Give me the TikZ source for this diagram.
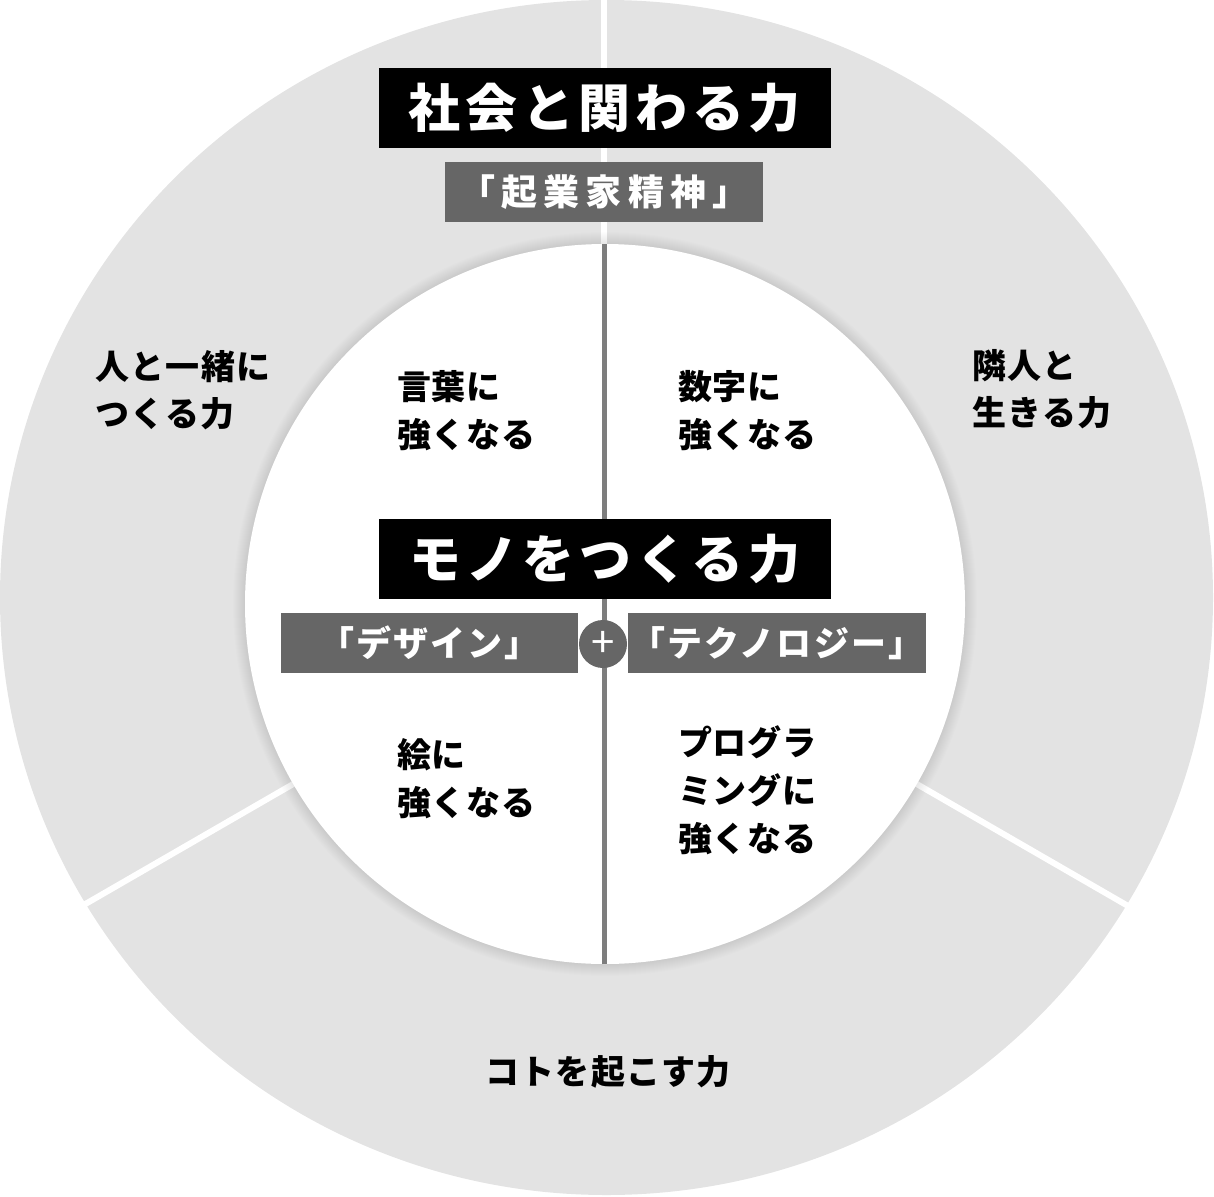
\documentclass[tikz,border=0pt]{standalone}
\usepackage{fontspec}
\setmainfont{Noto Sans CJK JP}
\newfontfamily\titlefont{Noto Sans CJK JP}[LetterSpace=9]
\newfontfamily\spiritfont{Noto Sans CJK JP}[LetterSpace=17]
\newfontfamily\boxfont{Noto Sans CJK JP}[LetterSpace=6]
\newfontfamily\ringfont{Noto Sans CJK JP}[LetterSpace=4]
\newfontfamily\innerfont{Noto Sans CJK JP}[LetterSpace=2]
\definecolor{ringgray}{HTML}{E3E3E3}
\definecolor{boxgray}{HTML}{666666}
\definecolor{linegray}{HTML}{7D7D7D}
\tikzset{
  bigbox/.style={fill=black,text=white,minimum width=452pt,minimum height=80pt,inner sep=0pt,font=\titlefont\fontsize{52}{52}\selectfont\bfseries},
  subbox/.style={fill=boxgray,text=white,minimum height=60pt,inner sep=0pt,font=\boxfont\fontsize{35}{35}\selectfont\bfseries},
  skilltext/.style={anchor=west,align=left,inner sep=0pt,font=\innerfont\fontsize{34}{48}\selectfont\bfseries},
  ringtext/.style={skilltext,font=\ringfont\fontsize{34}{47}\selectfont\bfseries}
}
\begin{document}
\begin{tikzpicture}[x=1pt,y=-1pt]
\useasboundingbox (0,0) rectangle (1214,1196);
\fill[ringgray] (606.5,597.5) ellipse [x radius=606.5, y radius=597.5];
\coordinate (c) at (605,604);
\draw[white,line width=6pt] (604,604) -- (604,0);
\draw[white,line width=6pt] (c) -- ++(150:660);
\draw[white,line width=6pt] (c) -- ++(30:660);
\foreach \r in {1,...,12}
  \fill[black,opacity=0.007] (c) circle [radius=360+\r];
\fill[white] (c) circle [radius=360];
\draw[linegray,line width=5pt] (604,244) -- (604,964);
\node[bigbox] (society) at (605,108) {社会と関わる力};
\node[subbox,minimum width=318pt,font=\spiritfont\fontsize{36}{36}\selectfont\bfseries] (spirit) at (604,192) {「起業家精神」};
\node[bigbox] (making) at (605,559) {モノをつくる力};
\node[subbox,minimum width=297pt] (design) at (429.5,643) {「デザイン」};
\node[subbox,minimum width=298pt] (tech) at (777,643) {「テクノロジー」};
\node[circle,fill=boxgray,text=white,minimum size=48pt,inner sep=0pt,font=\fontsize{42}{42}\selectfont] (plus) at (603,644) {+};
\node[ringtext] (together) at (95,390) {人と一緒に\\つくる力};
\node[ringtext] (neighbor) at (972,389) {隣人と\\生きる力};
\node[ringtext,anchor=center] (happen) at (608,1072) {コトを起こす力};
\node[skilltext] (words) at (397,411) {言葉に\\強くなる};
\node[skilltext] (numbers) at (678,411) {数字に\\強くなる};
\node[skilltext] (drawing) at (397,779) {絵に\\強くなる};
\node[skilltext] (coding) at (678,790) {プログラ\\ミングに\\強くなる};
\end{tikzpicture}
\end{document}
